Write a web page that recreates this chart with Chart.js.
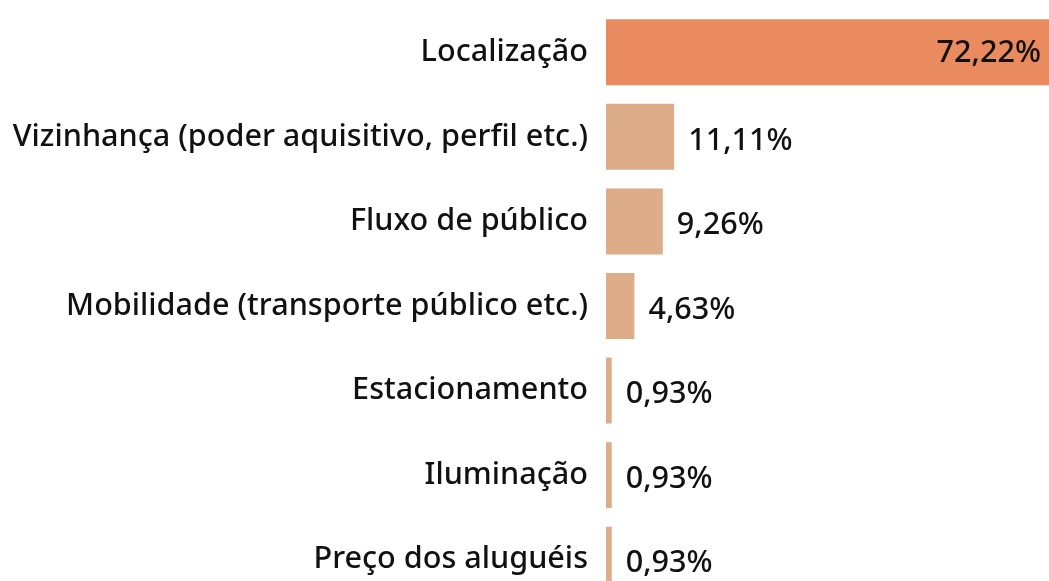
<!DOCTYPE html>
<html>
<head>
<meta charset="utf-8">
<script src="https://cdn.jsdelivr.net/npm/chart.js@4"></script>
<style>
  html, body { margin: 0; padding: 0; background: #fff; overflow: hidden; }
  canvas { display: block; }
</style>
</head>
<body>
<canvas id="chart" width="1049" height="602"></canvas>
<script>
const categories = [
  "Localização",
  "Vizinhança (poder aquisitivo, perfil etc.)",
  "Fluxo de público",
  "Mobilidade (transporte público etc.)",
  "Estacionamento",
  "Iluminação",
  "Preço dos aluguéis"
];
const percentages = [72.22, 11.11, 9.26, 4.63, 0.93, 0.93, 0.93];

const FONT = '"Noto Sans", "Open Sans", sans-serif';
const TEXT = "#111111";
const SIZE = 30.6;

function fmt(v) {
  return v.toFixed(2).replace(".", ",") + "%";
}

// draws the percentage next to (or inside) each bar
const valueLabels = {
  id: "valueLabels",
  afterDatasetsDraw(chart) {
    const ctx = chart.ctx;
    const meta = chart.getDatasetMeta(0);
    ctx.save();
    ctx.font = "500 " + SIZE + "px " + FONT;
    ctx.fillStyle = TEXT;
    ctx.textBaseline = "middle";
    meta.data.forEach((bar, i) => {
      const text = fmt(percentages[i]);
      if (i === 0) {
        ctx.textAlign = "right";
        ctx.fillText(text, bar.x - 8, bar.y + 1);
      } else {
        ctx.textAlign = "left";
        ctx.fillText(text, bar.x + 14, bar.y + 4);
      }
    });
    ctx.restore();
  }
};

new Chart(document.getElementById("chart"), {
  type: "bar",
  data: {
    labels: categories,
    datasets: [
      {
        data: percentages,
        backgroundColor: percentages.map((v, i) => (i === 0 ? "#E98A5F" : "#DDAC88")),
        borderWidth: 0,
        categoryPercentage: 1,
        barPercentage: 0.78,
      },
    ],
  },
  options: {
    indexAxis: "y",
    responsive: false,
    animation: false,
    layout: { padding: { top: 10, right: 0, bottom: 0, left: 0 } },
    plugins: {
      legend: { display: false },
      tooltip: { enabled: false },
    },
    scales: {
      x: {
        display: false,
        min: 0,
        max: 72.22,
      },
      y: {
        grid: { display: false, drawTicks: false },
        border: { display: false },
        afterFit: (scale) => {
          scale.width = 606;
          scale.paddingTop = 0;
          scale.paddingBottom = 0;
        },
        ticks: {
          color: TEXT,
          padding: 18,
          font: { size: SIZE, family: FONT, weight: "500" },
        },
      },
    },
  },
  plugins: [valueLabels],
});
</script>
</body>
</html>
